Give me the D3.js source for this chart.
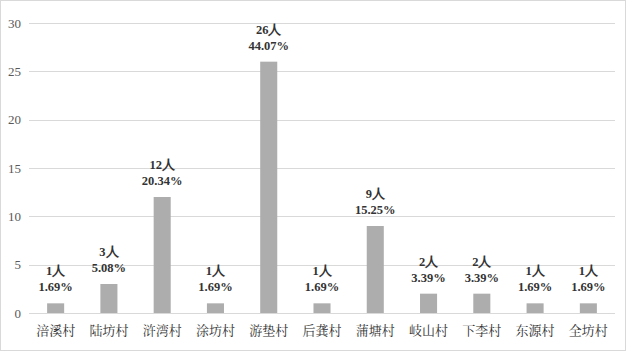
<!DOCTYPE html>
<html>
<head>
<meta charset="utf-8">
<script src="https://cdn.jsdelivr.net/npm/d3@7/dist/d3.min.js"></script>
<style>
body { margin: 0; background: #fff; }
.num { font-family: "Liberation Serif", "Times New Roman", "DejaVu Serif", serif; }
.cjk { font-family: "Noto Serif CJK SC", "Noto Sans CJK SC", serif; }
</style>
</head>
<body>
<svg width="626" height="351"></svg>
<script>
var villages = ['涪溪村', '陆坊村', '浒湾村', '涂坊村', '游垫村', '后龚村', '蒲塘村', '岐山村', '下李村', '东源村', '全坊村'];
var counts = [1, 3, 12, 1, 26, 1, 9, 2, 2, 1, 1];
var shares = ['1.69%', '5.08%', '20.34%', '1.69%', '44.07%', '1.69%', '15.25%', '3.39%', '3.39%', '1.69%', '1.69%'];
var yTicks = [0, 5, 10, 15, 20, 25, 30];

var svg = d3.select('svg');

svg.append('rect')
    .attr('x', 0.5).attr('y', 0.5)
    .attr('width', 625).attr('height', 350)
    .attr('fill', '#fff')
    .attr('stroke', '#d9d9d9');

var scaleX = d3.scaleBand().domain(villages).range([29, 615]).paddingInner(0.68).paddingOuter(0.34);
var scaleY = d3.scaleLinear().domain([0, 30]).range([313, 23]);

// gridlines
svg.append('g')
    .selectAll('line')
    .data(yTicks)
    .enter()
    .append('line')
    .attr('x1', 29)
    .attr('x2', 615)
    .attr('y1', function (d) { return Math.round(scaleY(d)) + 0.5; })
    .attr('y2', function (d) { return Math.round(scaleY(d)) + 0.5; })
    .attr('stroke', '#d9d9d9')
    .attr('stroke-width', 1);

// y axis labels
var yAxis = svg.append('g')
    .attr('transform', 'translate(21,0)')
    .call(d3.axisLeft(scaleY).tickValues(yTicks).tickSize(0).tickPadding(0));
yAxis.select('.domain').remove();
yAxis.attr('font-family', null);
yAxis.selectAll('text')
    .attr('class', 'num')
    .attr('font-size', 13)
    .attr('fill', '#595959');

// bars
svg.append('g')
    .selectAll('rect')
    .data(counts)
    .enter()
    .append('rect')
    .attr('x', function (d, i) { return scaleX(villages[i]); })
    .attr('y', function (d) { return scaleY(d); })
    .attr('width', scaleX.bandwidth())
    .attr('height', function (d) { return scaleY(0) - scaleY(d); })
    .attr('fill', '#adadad');

// x axis labels
var xAxis = svg.append('g')
    .attr('transform', 'translate(0,' + scaleY(0) + ')')
    .call(d3.axisBottom(scaleX).tickSize(0).tickPadding(13));
xAxis.select('.domain').remove();
xAxis.attr('font-family', null);
xAxis.selectAll('text')
    .attr('class', 'cjk')
    .attr('font-size', 13)
    .attr('fill', '#333');

// data labels
var labels = svg.append('g')
    .selectAll('text')
    .data(counts)
    .enter()
    .append('text')
    .attr('class', 'num')
    .attr('text-anchor', 'middle')
    .attr('font-weight', 'bold')
    .attr('font-size', 12.5)
    .attr('fill', '#333');

labels.append('tspan')
    .attr('x', function (d, i) { return scaleX(villages[i]) + scaleX.bandwidth() / 2; })
    .attr('y', function (d) { return scaleY(d) - 28; })
    .text(function (d) { return d + '人'; });

labels.append('tspan')
    .attr('x', function (d, i) { return scaleX(villages[i]) + scaleX.bandwidth() / 2; })
    .attr('y', function (d) { return scaleY(d) - 12; })
    .text(function (d, i) { return shares[i]; });
</script>
</body>
</html>
